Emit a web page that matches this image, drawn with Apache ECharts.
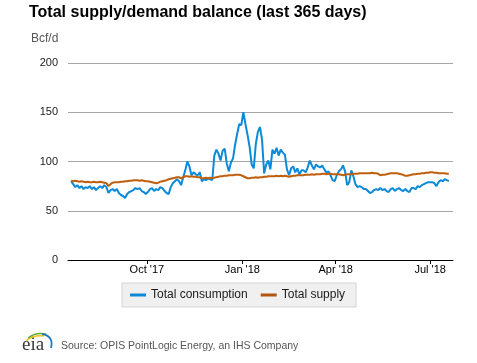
<!DOCTYPE html>
<html>
<head>
<meta charset="utf-8">
<script src="https://cdn.jsdelivr.net/npm/echarts@6/dist/echarts.min.js"></script>
<style>
html,body{margin:0;padding:0;background:#fff;}
#chart{width:477px;height:363px;}
</style>
</head>
<body>
<div id="chart"></div>
<script>
const dates = [
'2017-07-20','2017-07-22','2017-07-24','2017-07-26','2017-07-28','2017-07-30',
'2017-08-01','2017-08-03','2017-08-05','2017-08-07','2017-08-09','2017-08-11','2017-08-13','2017-08-15','2017-08-17','2017-08-19','2017-08-21','2017-08-23','2017-08-25','2017-08-27','2017-08-29','2017-08-31',
'2017-09-02','2017-09-04','2017-09-06','2017-09-08','2017-09-10','2017-09-12','2017-09-14','2017-09-16','2017-09-18','2017-09-20','2017-09-22','2017-09-24','2017-09-26','2017-09-28','2017-09-30',
'2017-10-02','2017-10-04','2017-10-06','2017-10-08','2017-10-10','2017-10-12','2017-10-14','2017-10-16','2017-10-18','2017-10-20','2017-10-22','2017-10-24','2017-10-26','2017-10-28','2017-10-30',
'2017-11-01','2017-11-03','2017-11-05','2017-11-07','2017-11-09','2017-11-11','2017-11-13','2017-11-15','2017-11-17','2017-11-19','2017-11-21','2017-11-23','2017-11-25','2017-11-27','2017-11-29',
'2017-12-01','2017-12-03','2017-12-05','2017-12-07','2017-12-09','2017-12-11','2017-12-13','2017-12-15','2017-12-17','2017-12-19','2017-12-21','2017-12-23','2017-12-25','2017-12-27','2017-12-29','2017-12-31',
'2018-01-02','2018-01-04','2018-01-06','2018-01-08','2018-01-10','2018-01-12','2018-01-14','2018-01-16','2018-01-18','2018-01-20','2018-01-22','2018-01-24','2018-01-26','2018-01-28','2018-01-30',
'2018-02-01','2018-02-03','2018-02-05','2018-02-07','2018-02-09','2018-02-11','2018-02-13','2018-02-15','2018-02-17','2018-02-19','2018-02-21','2018-02-23','2018-02-25','2018-02-27',
'2018-03-01','2018-03-03','2018-03-05','2018-03-07','2018-03-09','2018-03-11','2018-03-13','2018-03-15','2018-03-17','2018-03-19','2018-03-21','2018-03-23','2018-03-25','2018-03-27','2018-03-29','2018-03-31',
'2018-04-02','2018-04-04','2018-04-06','2018-04-08','2018-04-10','2018-04-12','2018-04-14','2018-04-16','2018-04-18','2018-04-20','2018-04-22','2018-04-24','2018-04-26','2018-04-28','2018-04-30',
'2018-05-02','2018-05-04','2018-05-06','2018-05-08','2018-05-10','2018-05-12','2018-05-14','2018-05-16','2018-05-18','2018-05-20','2018-05-22','2018-05-24','2018-05-26','2018-05-28','2018-05-30',
'2018-06-01','2018-06-03','2018-06-05','2018-06-07','2018-06-09','2018-06-11','2018-06-13','2018-06-15','2018-06-17','2018-06-19','2018-06-21','2018-06-23','2018-06-25','2018-06-27','2018-06-29',
'2018-07-01','2018-07-03','2018-07-05','2018-07-07','2018-07-09','2018-07-11','2018-07-13','2018-07-15','2018-07-17','2018-07-19'
];

const consumption = [
80,77,74,76,73,75,
72,74,73,75,72,74,71,73,75,73,76,74,68,71,72,70,
72,68,66,65,63,67,69,70,71,73,72,73,70,69,67,
69,72,73,70,72,71,74,73,70,68,67,74,78,80,82,
80,76,84,91,100,95,86,89,87,86,89,80,82,81,83,
82,81,106,112,108,101,111,113,98,90,99,103,117,128,138,137,
150,138,127,115,97,93,118,130,135,122,88,97,101,92,112,
108,114,106,112,109,107,92,86,93,95,89,93,87,91,
91,89,94,101,96,92,97,95,94,96,92,89,90,86,81,80,
86,90,92,96,90,76,79,91,85,77,74,75,74,72,72,
70,68,69,71,72,71,73,71,72,70,69,72,73,70,72,
73,71,70,72,70,69,73,73,72,75,74,76,77,78,79,
79,79,78,75,79,81,80,82,81,80
];

const supply = [
80.5,80,80.5,80,79.5,80,
79.5,79,79.5,79,79,79.5,79,79,79.5,79,78.5,78,75,77,78.5,79,
79,79,79.5,79.5,80,80,80.5,80.5,81,81,81,80.5,81,80.5,80,
80,79.5,79,78.5,78,78.5,79.5,80,80.5,81,82,82.5,83,83.5,84,
84,83,84,85,85,84.5,85,84.5,84.5,84,84,83,83,83.5,83,
83.5,83,83.5,84,84.5,85,85,85.5,85.5,86,86,86,86.5,86.5,86.5,86,
85,84,83,83,83.5,83.5,84,83.5,84,84,84.5,84.5,85,85,85,
85,85.5,85,85.5,85,85.5,85,84.5,85,85.5,85.5,86,86,86,
86,86.5,86.5,86.5,87,86.5,87,87,87,87.5,87.5,87,87.5,87.5,87,87,
87,87,86.5,86,86.5,87,87,87,87.5,87.5,87.5,88,88,88,88,
88,88,88.5,88,88,87.5,86,86.5,86.5,87,87.5,88,88,88,88,
87.5,87,86.5,85.5,85.5,86,86.5,87,87,87.5,87.5,88,88,88.5,88.5,
89,89,88.5,88.5,88,88,88,88,87.5,87.5
];

const seriesNames = ['Total consumption', 'Total supply'];
const tickDates = ['2017-10-01','2018-01-01','2018-04-01','2018-07-01'];
const tickLabels = ["Oct '17","Jan '18","Apr '18","Jul '18"];
const axisRange = ['2017-07-17','2018-07-23'];

function ts(s){ const p = s.split('-').map(Number); return new Date(p[0], p[1]-1, p[2]).getTime(); }
const tickTimes = tickDates.map(ts);

const chart = echarts.init(document.getElementById('chart'), null, {renderer:'canvas'});
chart.setOption({
  animation: false,
  backgroundColor: '#ffffff',
  textStyle: { fontFamily: 'Liberation Sans, Arial, sans-serif' },
  title: {
    text: 'Total supply/demand balance (last 365 days)',
    left: 29, top: 5, padding: 0,
    textStyle: { fontSize: 16, fontWeight: 'bold', color: '#000', fontFamily: 'Liberation Sans, Arial, sans-serif' }
  },
  grid: { left: 68, right: 24, top: 63, bottom: 103, containLabel: false },
  legend: {
    data: seriesNames,
    left: 122, top: 283,
    padding: [6, 11, 6, 8],
    itemGap: 13,
    itemWidth: 16, itemHeight: 3,
    icon: 'rect',
    backgroundColor: '#f0f0f0',
    borderColor: '#d4d4d4', borderWidth: 1, borderRadius: 0,
    textStyle: { fontSize: 12, color: '#1a1a1a', fontFamily: 'Liberation Sans, Arial, sans-serif' }
  },
  xAxis: {
    type: 'value',
    min: ts(axisRange[0]), max: ts(axisRange[1]),
    axisLine: { show: true, lineStyle: { color: '#000', width: 1 } },
    axisTick: { show: true, customValues: tickTimes, length: 4, lineStyle: { color: '#000' } },
    axisLabel: {
      customValues: tickTimes,
      fontSize: 11, color: '#000', margin: 4,
      formatter: function (v) { const i = tickTimes.indexOf(v); return i >= 0 ? tickLabels[i] : ''; }
    },
    splitLine: { show: false }
  },
  yAxis: {
    type: 'value', min: 0, max: 200, interval: 50,
    axisLine: { show: false }, axisTick: { show: false },
    axisLabel: { fontSize: 11, color: '#222', margin: 10 },
    splitLine: { show: true, lineStyle: { color: '#a6a6a6', width: 1 } }
  },
  series: [
    {
      name: seriesNames[0], type: 'line', showSymbol: false, symbol: 'none',
      data: dates.map((d, i) => [ts(d), consumption[i]]),
      lineStyle: { color: '#0a8ad8', width: 2 }, itemStyle: { color: '#0a8ad8' }
    },
    {
      name: seriesNames[1], type: 'line', showSymbol: false, symbol: 'none',
      data: dates.map((d, i) => [ts(d), supply[i]]),
      lineStyle: { color: '#c0600f', width: 2 }, itemStyle: { color: '#b3540f' }
    }
  ],
  graphic: [
    { type: 'text', left: 31, top: 33, style: { text: 'Bcf/d', fontSize: 12, fill: '#555', fontFamily: 'Liberation Sans, Arial, sans-serif' } },
    { type: 'text', left: 61, top: 341, style: { text: 'Source: OPIS PointLogic Energy, an IHS Company', fontSize: 10.5, fill: '#555', fontFamily: 'Liberation Sans, Arial, sans-serif' } },
    { type: 'text', left: 22, top: 336, style: { text: 'eia', fontSize: 19, fill: '#3a3a3a', fontFamily: 'Liberation Serif, DejaVu Serif, serif' } },
    { type: 'bezierCurve', shape: { x1: 26, y1: 341, cpx1: 32, cpy1: 335, x2: 44, y2: 336 }, style: { stroke: '#e8c21a', lineWidth: 1.5, fill: null } },
    { type: 'bezierCurve', shape: { x1: 28, y1: 338, cpx1: 35, cpy1: 332, x2: 46, y2: 334 }, style: { stroke: '#5aab3c', lineWidth: 1.5, fill: null } },
    { type: 'bezierCurve', shape: { x1: 42, y1: 334, cpx1: 54, cpy1: 336, x2: 51, y2: 348 }, style: { stroke: '#1f7ac0', lineWidth: 1.8, fill: null } }
  ]
});
</script>
</body>
</html>
